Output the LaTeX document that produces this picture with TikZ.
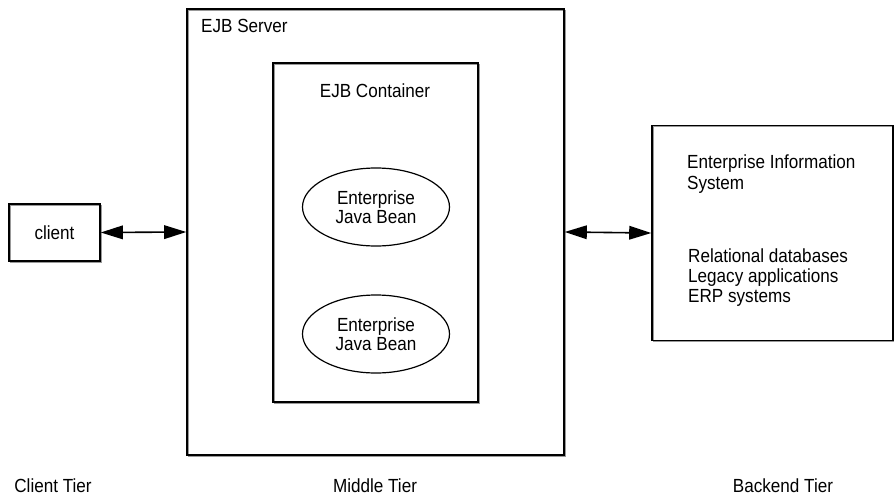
\documentclass[tikz,border=0pt]{standalone}
\usepackage{fontspec}
\setmainfont{Liberation Sans}[FakeStretch=0.9]
\usetikzlibrary{arrows.meta,shapes.geometric}

\tikzset{
  tierbox/.style={draw=black, line width=1.6pt, inner sep=0pt,
    preaction={draw=black!40, line width=1pt,
      transform canvas={shift={(1.3pt,-1.3pt)}}}},
  bean/.style={ellipse, draw=black, line width=1.2pt, inner sep=0pt,
    minimum width=147pt, minimum height=78pt, align=center},
  label/.style={inner sep=0pt},
  tip/.tip={Triangle[length=22pt,width=14pt,line width=0pt]},
  link/.style={line width=1.6pt, tip-tip}
}

\begin{document}
\begin{tikzpicture}[x=1pt, y=-1pt,
    every node/.append style={font=\fontsize{19}{20.5}\selectfont}]
  \useasboundingbox (0,0) rectangle (894,500);

  % boxes
  \node[tierbox, minimum width=91pt, minimum height=57pt] (client) at (54.5,232.5) {};
  \node[tierbox, minimum width=377pt, minimum height=446pt] (server) at (375.5,232) {};
  \node[tierbox, minimum width=205pt, minimum height=339pt] (container) at (375.5,232.5) {};
  \node[tierbox, minimum width=241pt, minimum height=215pt] (eis) at (772.5,233) {};

  % beans
  \node[bean] (bean1) at (376,207) {Enterprise\\[-1pt]Java Bean};
  \node[bean] (bean2) at (376,334) {Enterprise\\[-1pt]Java Bean};

  % texts
  \node[label] (clienttxt) at (client.center) {client};
  \node[label, anchor=base west] (servertxt) at (201,33) {EJB Server};
  \node[label, anchor=base] (containertxt) at (375,98) {EJB Container};
  \node[label, anchor=base west] (eis1) at (687,168) {Enterprise Information};
  \node[label, anchor=base west] (eis2) at (687,189) {System};
  \node[label, anchor=base west] (db1) at (688,262) {Relational databases};
  \node[label, anchor=base west] (db2) at (688,282) {Legacy applications};
  \node[label, anchor=base west] (db3) at (688,302) {ERP systems};

  % tier captions
  \node[label, anchor=base] (tier1) at (53,492) {Client Tier};
  \node[label, anchor=base] (tier2) at (375,492) {Middle Tier};
  \node[label, anchor=base] (tier3) at (783,492) {Backend Tier};

  % connectors
  \draw[link] (client.east) -- (server.west);
  \draw[link] (server.east) -- (eis.west);
\end{tikzpicture}
\end{document}
